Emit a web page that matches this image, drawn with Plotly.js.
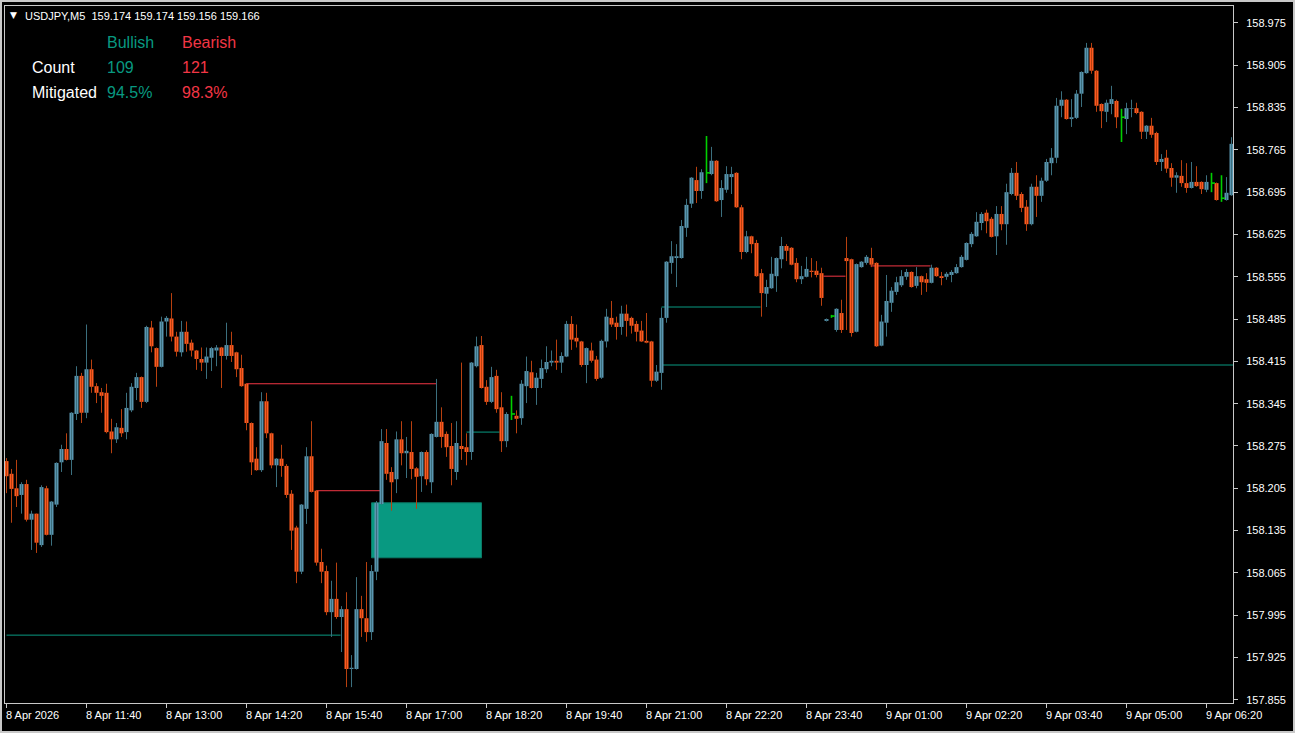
<!DOCTYPE html>
<html><head><meta charset="utf-8">
<script src="https://cdn.plot.ly/plotly-3.0.1.min.js"></script>
<style>
html,body{margin:0;padding:0;background:#c8c8c8;width:1295px;height:733px;overflow:hidden;}
#chart{position:absolute;left:2px;top:2px;width:1291px;height:729px;background:#000;}
</style></head><body><div id="chart"></div>
<script>
// ---- data (USDJPY M5, bar index 0 = 8 Apr 10:20) ----
const openP=[158.250,158.229,158.205,158.194,158.212,158.153,158.163,158.111,158.205,158.128,
158.178,158.248,158.270,158.252,158.328,158.391,158.330,158.402,158.374,158.364,
158.363,158.299,158.286,158.305,158.298,158.334,158.371,158.389,158.348,158.471,
158.437,158.406,158.481,158.486,158.456,158.430,158.464,158.446,158.433,158.419,
158.413,158.421,158.433,158.438,158.424,158.442,158.430,158.404,158.378,158.313,
158.254,158.235,158.349,158.296,158.243,158.254,158.242,158.196,158.140,158.067,
158.171,158.258,158.201,158.083,158.068,158.000,158.022,157.992,158.005,157.906,
157.906,158.005,157.990,157.967,158.067,158.179,158.280,158.232,158.220,158.286,
158.263,158.265,158.238,158.225,158.265,158.215,158.290,158.315,158.295,158.275,
158.232,158.275,158.273,158.265,158.407,158.442,158.373,158.348,158.391,158.339,
158.283,158.328,158.325,158.321,158.374,158.397,158.371,158.386,158.402,158.413,
158.416,158.413,158.423,158.477,158.454,158.448,158.409,158.433,158.418,158.388,
158.448,158.487,158.479,158.472,158.494,158.487,158.477,158.466,158.449,158.448,
158.383,158.396,158.487,158.578,158.586,158.586,158.636,158.676,158.715,158.697,
158.727,158.725,158.747,158.682,158.699,158.720,158.727,158.670,158.596,158.622,
158.611,158.561,158.527,158.536,158.556,158.584,158.606,158.603,158.578,158.551,
158.555,158.565,158.565,158.561,158.482,158.490,158.467,158.495,158.586,158.584,
158.464,158.571,158.578,158.586,158.578,158.441,158.479,158.512,158.530,158.541,
158.555,158.563,158.540,158.556,158.551,158.545,158.570,158.556,158.555,158.558,
158.561,158.571,158.583,158.609,158.622,158.644,158.661,158.651,158.622,158.659,
158.642,158.692,158.727,158.692,158.671,158.642,158.704,158.689,158.714,158.743,
158.752,158.838,158.848,158.816,158.818,158.858,158.892,158.934,158.896,158.841,
158.828,158.841,158.846,158.819,158.816,158.833,158.834,158.828,158.795,158.805,
158.793,158.745,158.752,158.735,158.719,158.722,158.710,158.702,158.712,158.712,
158.699,158.710,158.710,158.685,158.682,158.690];
const highP=[158.255,158.237,158.252,158.215,158.219,158.168,158.163,158.210,158.209,158.184,
158.248,158.277,158.296,158.331,158.407,158.396,158.476,158.418,158.379,158.371,
158.378,158.320,158.313,158.336,158.363,158.379,158.396,158.390,158.474,158.482,
158.438,158.489,158.490,158.528,158.464,158.482,158.481,158.451,158.434,158.438,
158.438,158.439,158.442,158.439,158.479,158.464,158.431,158.426,158.379,158.314,
158.273,158.364,158.363,158.297,158.255,158.277,158.245,158.202,158.143,158.179,
158.273,158.316,158.202,158.105,158.077,158.052,158.082,158.010,158.033,157.929,
158.058,158.027,158.083,158.078,158.184,158.303,158.303,158.240,158.299,158.316,
158.290,158.316,158.240,158.266,158.268,158.296,158.386,158.339,158.299,158.313,
158.316,158.413,158.296,158.414,158.456,158.457,158.384,158.406,158.401,158.364,
158.331,158.358,158.334,158.384,158.423,158.416,158.396,158.418,158.440,158.433,
158.451,158.430,158.482,158.490,158.476,158.449,158.438,158.446,158.424,158.451,
158.502,158.515,158.489,158.507,158.509,158.489,158.482,158.482,158.495,158.449,
158.409,158.504,158.581,158.614,158.609,158.649,158.684,158.720,158.737,158.733,
158.788,158.770,158.748,158.715,158.738,158.737,158.728,158.674,158.631,158.623,
158.616,158.568,158.550,158.588,158.587,158.621,158.609,158.604,158.586,158.573,
158.588,158.586,158.581,158.570,158.486,158.492,158.503,158.517,158.621,158.585,
158.577,158.581,158.591,158.603,158.579,158.492,158.558,158.538,158.555,158.566,
158.568,158.564,158.571,158.557,158.561,158.575,158.571,158.563,158.563,158.566,
158.576,158.591,158.612,158.629,158.662,158.662,158.666,158.654,158.672,158.672,
158.709,158.735,158.745,158.695,158.682,158.709,158.723,158.719,158.750,158.768,
158.851,158.862,158.849,158.849,158.864,158.895,158.942,158.942,158.897,158.842,
158.848,158.871,158.848,158.833,158.843,158.848,158.843,158.829,158.806,158.818,
158.795,158.758,158.765,158.743,158.728,158.748,158.743,158.745,158.738,158.713,
158.723,158.727,158.711,158.723,158.720,158.786];
const lowP=[158.197,158.148,158.174,158.163,158.150,158.103,158.098,158.108,158.127,158.110,
158.174,158.232,158.251,158.227,158.318,158.313,158.321,158.363,158.346,158.330,
158.296,158.263,158.280,158.290,158.286,158.331,158.351,158.338,158.346,158.430,
158.373,158.405,158.456,158.448,158.423,158.423,158.431,158.423,158.401,158.399,
158.386,158.399,158.407,158.371,158.418,158.414,158.389,158.373,158.301,158.227,
158.234,158.232,158.288,158.238,158.207,158.224,158.189,158.103,158.048,158.063,
158.146,158.198,158.077,158.048,157.995,157.959,157.989,157.934,157.876,157.876,
157.905,157.959,157.951,157.954,158.053,158.178,158.219,158.168,158.197,158.243,
158.222,158.220,158.171,158.199,158.210,158.197,158.289,158.272,158.257,158.210,
158.219,158.252,158.243,158.252,158.405,158.370,158.343,158.346,158.330,158.265,
158.273,158.318,158.296,158.310,158.346,158.370,158.343,158.371,158.396,158.407,
158.401,158.396,158.422,158.434,158.438,158.406,158.379,158.413,158.383,158.386,
158.438,158.472,158.451,158.459,158.456,158.461,158.448,158.447,158.445,158.373,
158.381,158.368,158.479,158.560,158.538,158.585,158.621,158.669,158.677,158.684,
158.710,158.723,158.679,158.654,158.694,158.692,158.669,158.584,158.594,158.594,
158.555,158.489,158.505,158.535,158.530,158.569,158.581,158.574,158.546,158.543,
158.554,158.554,158.554,158.507,158.481,158.487,158.464,158.462,158.467,158.456,
158.463,158.570,158.575,158.571,158.439,158.440,158.456,158.497,158.525,158.538,
158.550,158.537,158.536,158.525,158.530,158.544,158.555,158.541,158.550,158.546,
158.560,158.570,158.582,158.604,158.621,158.632,158.627,158.620,158.591,158.632,
158.608,158.690,158.682,158.662,158.631,158.640,158.654,158.679,158.712,158.723,
158.743,158.819,158.815,158.803,158.816,158.836,158.891,158.891,158.828,158.801,
158.811,158.824,158.801,158.778,158.791,158.819,158.824,158.783,158.783,158.785,
158.740,158.730,158.727,158.704,158.694,158.704,158.694,158.701,158.704,158.692,
158.695,158.695,158.681,158.679,158.681,158.689];
const closeP=[158.225,158.204,158.192,158.212,158.153,158.163,158.115,158.207,158.128,158.183,
158.247,158.270,158.252,158.330,158.391,158.330,158.402,158.373,158.363,158.358,
158.298,158.286,158.306,158.296,158.338,158.373,158.389,158.348,158.472,158.440,
158.406,158.481,158.487,158.456,158.431,158.464,158.444,158.433,158.419,158.413,
158.423,158.437,158.438,158.424,158.442,158.424,158.402,158.374,158.313,158.248,
158.235,158.349,158.296,158.243,158.254,158.242,158.194,158.135,158.067,158.178,
158.258,158.199,158.082,158.067,158.000,158.022,157.992,158.005,157.906,157.908,
158.005,157.990,157.967,158.068,158.181,158.283,158.229,158.215,158.286,158.263,
158.267,158.237,158.224,158.265,158.220,158.295,158.315,158.290,158.273,158.237,
158.280,158.270,158.265,158.413,158.440,158.371,158.348,158.389,158.336,158.283,
158.328,158.328,158.320,158.378,158.399,158.371,158.388,158.404,158.414,158.416,
158.413,158.424,158.477,158.451,158.448,158.409,158.437,158.416,158.386,158.449,
158.489,158.476,158.472,158.494,158.482,158.474,158.464,158.448,158.446,158.383,
158.398,158.487,158.580,158.589,158.589,158.639,158.674,158.719,158.697,158.728,
158.727,158.747,158.680,158.702,158.725,158.725,158.670,158.596,158.622,158.609,
158.556,158.528,158.538,158.560,158.586,158.606,158.598,158.575,158.551,158.556,
158.568,158.563,158.558,158.520,158.485,158.490,158.502,158.467,158.581,158.462,
158.576,158.580,158.588,158.575,158.440,158.481,158.515,158.532,158.546,158.556,
158.563,158.538,158.556,158.546,158.545,158.570,158.556,158.553,158.560,158.563,
158.571,158.588,158.611,158.626,158.646,158.659,158.647,158.621,158.659,158.642,
158.695,158.727,158.689,158.669,158.642,158.704,158.689,158.714,158.745,158.752,
158.838,158.848,158.816,158.819,158.858,158.894,158.934,158.896,158.838,158.829,
158.843,158.849,158.819,158.819,158.834,158.834,158.826,158.795,158.805,158.790,
158.745,158.750,158.734,158.719,158.723,158.710,158.702,158.712,158.705,158.700,
158.712,158.710,158.682,158.685,158.694,158.775];

const xTickIdx=[0,16,32,48,64,80,96,112,128,144,160,176,192,208,224,240];
const xTickLabels=['8 Apr 2026','8 Apr 11:40','8 Apr 13:00','8 Apr 14:20','8 Apr 15:40','8 Apr 17:00',
'8 Apr 18:20','8 Apr 19:40','8 Apr 21:00','8 Apr 22:20','8 Apr 23:40','9 Apr 01:00','9 Apr 02:20',
'9 Apr 03:40','9 Apr 05:00','9 Apr 06:20'];

// order-block levels (price, from bar, to bar; null = to right edge)
const levelPrice=[158.378,158.201,157.962,158.298,158.505,158.409,158.556,158.573];
const levelFrom=[48,62,0,92,131,131,163.4,172.8];
const levelTo=[86,74.8,66.8,98.6,150.8,null,167.8,184.8];
const levelSide=['bear','bear','bull','bull','bull','bull','bear','bear'];
// active zone
const zoneTop=[158.181], zoneBottom=[158.090], zoneFrom=[73], zoneTo=[95];

const statsCols=['Bullish','Bearish'];
const statsRows=['Count','Mitigated'];
const statsBull=['109','94.5%'];
const statsBear=['121','98.3%'];
const symbolInfo='USDJPY,M5';
const quoteOHLC=['159.174','159.174','159.156','159.166'];

// ---- styles ----
const BG='#000000', FG='#ffffff';
const BULL_BODY='#5a96b0', BULL_WICK='#3b6f7e';
const BEAR_BODY='#ff5a20', BEAR_WICK='#b8400f';
const DOJI='#00d000';
const TEAL='#089981', RED='#f23645';
const FONT='Liberation Sans, Arial, sans-serif';
const X_MIN=-0.3, X_MAX=245.3;

const n=openP.length;
const bull={x:[],base:[],h:[]}, bear={x:[],base:[],h:[]};
const bwx=[],bwy=[],rwx=[],rwy=[],dx=[],dy=[];
for(let i=0;i<n;i++){
  const o=openP[i],c=closeP[i],h=highP[i],l=lowP[i];
  if(o===c){
    dx.push(i,i,null,i,i+0.7,null); dy.push(h,l,null,c,c,null);
  } else if(c>o){
    bull.x.push(i); bull.base.push(o); bull.h.push(c-o);
    bwx.push(i,i,null); bwy.push(h,l,null);
  } else {
    bear.x.push(i); bear.base.push(c); bear.h.push(o-c);
    rwx.push(i,i,null); rwy.push(h,l,null);
  }
}
const traces=[
 {type:'scatter',mode:'lines',x:bwx,y:bwy,line:{color:BULL_WICK,width:1},hoverinfo:'skip'},
 {type:'scatter',mode:'lines',x:rwx,y:rwy,line:{color:BEAR_WICK,width:1},hoverinfo:'skip'},
 {type:'bar',x:bull.x,base:bull.base,y:bull.h,width:0.8,marker:{color:BULL_BODY,line:{width:0}}},
 {type:'bar',x:bear.x,base:bear.base,y:bear.h,width:0.8,marker:{color:BEAR_BODY,line:{width:0}}},
 {type:'scatter',mode:'lines',x:dx,y:dy,line:{color:DOJI,width:1.6},hoverinfo:'skip'}
];

const shapes=[];
for(let k=0;k<zoneTop.length;k++){
  shapes.push({type:'rect',xref:'x',yref:'y',x0:zoneFrom[k],x1:zoneTo[k],y0:zoneBottom[k],y1:zoneTop[k],
    fillcolor:TEAL,line:{color:'#0b7a66',width:1},layer:'below'});
}
for(let k=0;k<levelPrice.length;k++){
  shapes.push({type:'line',xref:'x',yref:'y',x0:levelFrom[k],x1:levelTo[k]===null?X_MAX:levelTo[k],
    y0:levelPrice[k],y1:levelPrice[k],line:{color:levelSide[k]==='bull'?TEAL:RED,width:1},layer:'below'});
}

const ann=[];
xTickIdx.forEach((v,k)=>ann.push({xref:'x',yref:'paper',x:v,y:0,xanchor:'left',yanchor:'top',
  xshift:-3,yshift:-4,showarrow:false,text:xTickLabels[k],font:{family:FONT,size:11,color:FG}}));
// header
ann.push({xref:'paper',yref:'paper',x:0,y:1,xanchor:'left',yanchor:'middle',xshift:3,yshift:-9,showarrow:false,
  text:'▼',font:{family:'DejaVu Sans',size:9,color:FG}});
ann.push({xref:'paper',yref:'paper',x:0,y:1,xanchor:'left',yanchor:'middle',xshift:18,yshift:-10,showarrow:false,
  text:symbolInfo+'\u00a0\u00a0'+quoteOHLC.join('\u00a0'),font:{family:FONT,size:11,color:FG}});
// stats table
const colX=[100,175], rowY=[-36,-61,-86];
ann.push({xref:'paper',yref:'paper',x:0,y:1,xanchor:'left',yanchor:'middle',xshift:colX[0],yshift:rowY[0],showarrow:false,text:statsCols[0],font:{family:FONT,size:16,color:TEAL}});
ann.push({xref:'paper',yref:'paper',x:0,y:1,xanchor:'left',yanchor:'middle',xshift:colX[1],yshift:rowY[0],showarrow:false,text:statsCols[1],font:{family:FONT,size:16,color:RED}});
statsRows.forEach((r,k)=>{
  ann.push({xref:'paper',yref:'paper',x:0,y:1,xanchor:'left',yanchor:'middle',xshift:25,yshift:rowY[k+1],showarrow:false,text:r,font:{family:FONT,size:16,color:FG}});
  ann.push({xref:'paper',yref:'paper',x:0,y:1,xanchor:'left',yanchor:'middle',xshift:colX[0],yshift:rowY[k+1],showarrow:false,text:statsBull[k],font:{family:FONT,size:16,color:TEAL}});
  ann.push({xref:'paper',yref:'paper',x:0,y:1,xanchor:'left',yanchor:'middle',xshift:colX[1],yshift:rowY[k+1],showarrow:false,text:statsBear[k],font:{family:FONT,size:16,color:RED}});
});

const layout={
  width:1291,height:729,margin:{l:3,r:60,t:4,b:28,pad:0},
  paper_bgcolor:BG,plot_bgcolor:BG,showlegend:false,barmode:'overlay',
  xaxis:{range:[X_MIN,X_MAX],tickmode:'array',tickvals:xTickIdx,showticklabels:false,ticks:'outside',ticklen:4,
    tickcolor:'#c8c8c8',showgrid:false,zeroline:false,showline:true,linecolor:'#c8c8c8',linewidth:1,mirror:true,fixedrange:true},
  yaxis:{side:'right',range:[157.8497,159.0031],tickmode:'linear',tick0:157.855,dtick:0.07,tickformat:'.3f',
    ticks:'outside',ticklen:4,tickcolor:'#c8c8c8',ticklabelstandoff:6,tickfont:{family:FONT,size:11,color:FG},
    showgrid:false,zeroline:false,showline:true,linecolor:'#c8c8c8',linewidth:1,mirror:true,fixedrange:true},
  shapes:shapes,annotations:ann
};
Plotly.newPlot('chart',traces,layout,{displayModeBar:false,staticPlot:true});
</script></body></html>
